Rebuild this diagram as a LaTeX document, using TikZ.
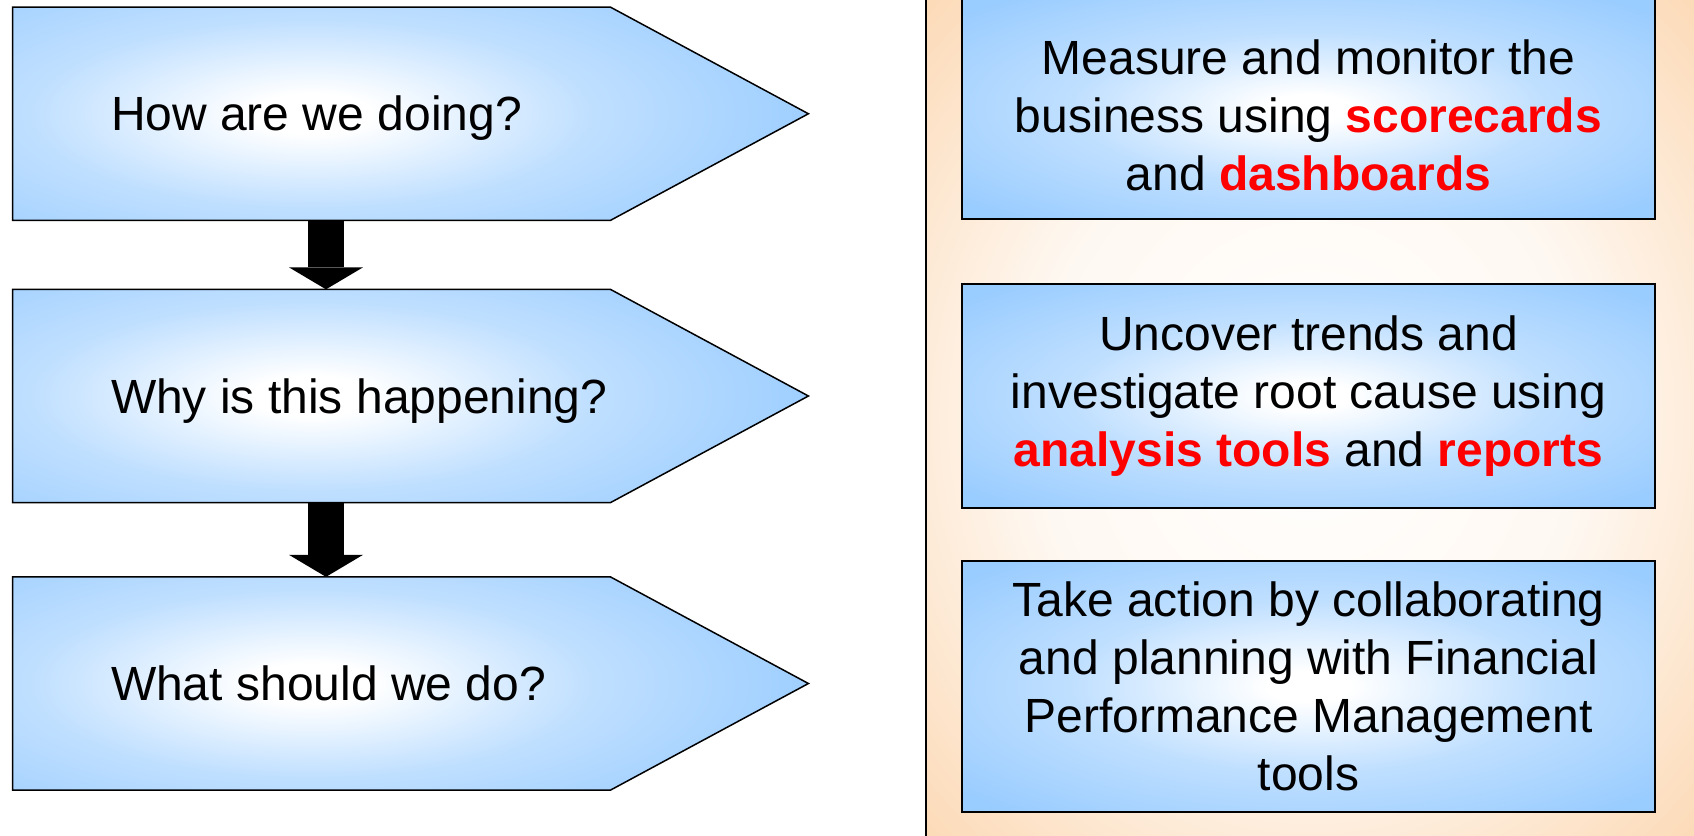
\documentclass[tikz,border=0pt]{standalone}
\usepackage{fontspec}
\setmainfont{Liberation Sans}
\usetikzlibrary{arrows.meta}
\definecolor{qblue}{RGB}{153,204,255}
\colorlet{qmid}{qblue!62!white}
\definecolor{peach}{RGB}{252,217,181}
\colorlet{peachpale}{peach!18!white}
\definecolor{keyred}{RGB}{255,0,0}
\pgfdeclareradialshading{bluefade}{\pgfpoint{0bp}{0bp}}{color(0bp)=(white); color(3bp)=(white); color(17bp)=(qmid); color(33bp)=(qblue); color(50bp)=(qblue)}
\pgfdeclareradialshading{pentfade}{\pgfpoint{0bp}{0bp}}{color(0bp)=(white); color(3bp)=(white); color(14bp)=(qmid); color(27bp)=(qblue); color(50bp)=(qblue)}
\pgfdeclareradialshading{peachfade}{\pgfpoint{0bp}{0bp}}{color(0bp)=(white); color(18bp)=(peachpale); color(36bp)=(peach); color(50bp)=(peach)}
\newcommand{\kw}[1]{\textbf{\color{keyred}#1}}
\begin{document}
\begin{tikzpicture}[x=0.5pt,y=-0.5pt,
    qbody/.style={minimum width=298.5pt,minimum height=106.25pt,inner sep=0pt},
    qtext/.style={anchor=base west,inner sep=0pt,font=\fontsize{24}{29}\selectfont},
    abox/.style={draw=black,line width=0.9pt,shade,shading=bluefade,
        minimum width=346.5pt,inner sep=2pt,align=center,
        font=\fontsize{24}{29}\selectfont},
    atext/.style={inner sep=0pt,align=center,font=\fontsize{24}{29}\selectfont},
    downarrow/.style={line width=18pt,
        -{Triangle[width=37pt,length=11pt,line width=0pt]}}]
    \useasboundingbox (0,0) rectangle (1694,836);
    %% Right panel
    \shade[shading=peachfade] (926,-2) rectangle (1696,838);
    \draw[line width=1pt] (926,-2) -- (926,838);
    %% Questions
    \node[qbody] (q1) at (311.5,113.75) {};
    \node[qbody] (q2) at (311.5,396) {};
    \node[qbody] (q3) at (311.5,683.5) {};
    \foreach \q in {q1,q2,q3}{
        \begin{scope}
            \clip (\q.north west) -- (\q.north east) -- ([xshift=99pt]\q.east)
                -- (\q.south east) -- (\q.south west) -- cycle;
            \shade[shading=pentfade] ([shift={(-248.5pt,-83.5pt)}]\q.center)
                rectangle ([shift={(248.5pt,83.5pt)}]\q.center);
        \end{scope}
        \draw[line width=0.75pt] (\q.north west) -- (\q.north east)
            -- ([xshift=99pt]\q.east) -- (\q.south east)
            -- (\q.south west) -- cycle;
    }
    \node[qtext] (how) at ([xshift=49pt,yshift=-8.5pt]q1.west) {How are we doing?};
    \node[qtext] (why) at ([xshift=49pt,yshift=-8.5pt]q2.west) {Why is this happening?};
    \node[qtext] (what) at ([xshift=49pt,yshift=-8.5pt]q3.west) {What should we do?};
    %% Arrows
    \draw[downarrow] ([xshift=7.25pt]q1.south) -- ([xshift=7.25pt]q2.north);
    \draw[downarrow] ([xshift=7.25pt]q2.south) -- ([xshift=7.25pt]q3.north);
    %% Answers
    \node[abox,minimum height=111pt] (measurebox) at (1308.5,108) {};
    \node[atext] (measure) at (1308.5,115)
        {Measure and monitor the\\ business using \kw{scorecards}\\ and \kw{dashboards}};
    \node[abox,minimum height=112pt] (uncover) at (1308.5,396)
        {Uncover trends and\\ investigate root cause using\\ \kw{analysis tools} and \kw{reports}};
    \node[abox,minimum height=125.5pt] (act) at (1308.5,686.5)
        {Take action by collaborating\\ and planning with Financial\\ Performance Management\\ tools};
\end{tikzpicture}
\end{document}
